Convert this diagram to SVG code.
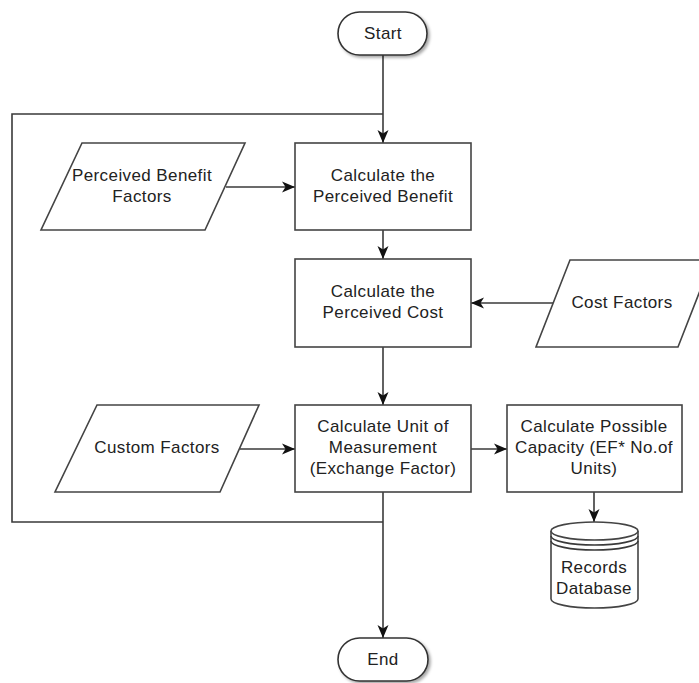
<svg xmlns="http://www.w3.org/2000/svg" width="699" height="683" viewBox="0 0 699 683">
<style>
.shape{fill:#ffffff;stroke:#444444;stroke-width:1.6}
.term{fill:#ffffff;stroke:#333333;stroke-width:1.6;filter:url(#sh)}
.conn{fill:none;stroke:#3a3a3a;stroke-width:1.6}
text{font-family:"Liberation Sans",Arial,sans-serif;font-size:17px;fill:#222222;text-anchor:middle;letter-spacing:0.4px}
</style>
<defs>
<marker id="arr" markerUnits="userSpaceOnUse" markerWidth="14" markerHeight="14" refX="13" refY="7" orient="auto">
<path d="M0,1.5 L13,7 L0,12.5 L3.5,7 z" fill="#111111"/>
</marker>
<filter id="sh" x="-10%" y="-10%" width="130%" height="140%">
<feDropShadow dx="2" dy="2" stdDeviation="1.5" flood-color="#000000" flood-opacity="0.35"/>
</filter>
</defs>
<rect width="699" height="683" fill="#ffffff"/>
<g id="connectors">
<path class="conn" d="M383,522 H12 V114 H383"/>
<line class="conn" x1="383" y1="55" x2="383" y2="143" marker-end="url(#arr)"/>
<line class="conn" x1="226" y1="187" x2="295" y2="187" marker-end="url(#arr)"/>
<line class="conn" x1="383" y1="230" x2="383" y2="259" marker-end="url(#arr)"/>
<line class="conn" x1="553" y1="303" x2="471" y2="303" marker-end="url(#arr)"/>
<line class="conn" x1="383" y1="347" x2="383" y2="405" marker-end="url(#arr)"/>
<line class="conn" x1="240" y1="449" x2="295" y2="449" marker-end="url(#arr)"/>
<line class="conn" x1="471" y1="449" x2="507" y2="449" marker-end="url(#arr)"/>
<line class="conn" x1="594" y1="492" x2="594" y2="522" marker-end="url(#arr)"/>
<line class="conn" x1="383" y1="492" x2="383" y2="638" marker-end="url(#arr)"/>
</g>
<g id="start">
<rect class="term" x="338" y="12" width="89" height="43" rx="21.5"/>
<text x="383" y="39">Start</text>
</g>
<g id="perceived-benefit-factors">
<polygon class="shape" points="82,143 245,143 205,230 41,230"/>
<text x="142" y="181">Perceived Benefit</text>
<text x="142" y="202">Factors</text>
</g>
<g id="calc-benefit">
<rect class="shape" x="295" y="143" width="176" height="87"/>
<text x="383" y="181">Calculate the</text>
<text x="383" y="202">Perceived Benefit</text>
</g>
<g id="calc-cost">
<rect class="shape" x="295" y="259" width="176" height="88"/>
<text x="383" y="297">Calculate the</text>
<text x="383" y="318">Perceived Cost</text>
</g>
<g id="cost-factors">
<polygon class="shape" points="570,260 712,260 678,347 536,347"/>
<text x="622" y="308">Cost Factors</text>
</g>
<g id="custom-factors">
<polygon class="shape" points="97,405 259,405 220,492 55,492"/>
<text x="157" y="453">Custom Factors</text>
</g>
<g id="calc-unit">
<rect class="shape" x="295" y="405" width="176" height="87"/>
<text x="383" y="432">Calculate Unit of</text>
<text x="383" y="453">Measurement</text>
<text x="383" y="474">(Exchange Factor)</text>
</g>
<g id="calc-capacity">
<rect class="shape" x="507" y="405" width="175" height="87"/>
<text x="594" y="432">Calculate Possible</text>
<text x="594" y="453">Capacity (EF* No.of</text>
<text x="594" y="474">Units)</text>
</g>
<g id="records-database">
<path class="shape" d="M551,531 V599 A43.5,9 0 0 0 638,599 V531"/>
<ellipse class="shape" cx="594.5" cy="531" rx="43.5" ry="9"/>
<path class="conn" d="M551,536 A43.5,9 0 0 0 638,536"/>
<path class="conn" d="M551,541 A43.5,9 0 0 0 638,541"/>
<text x="594" y="573">Records</text>
<text x="594" y="594">Database</text>
</g>
<g id="end">
<rect class="term" x="338" y="638" width="90" height="43" rx="21.5"/>
<text x="383" y="665">End</text>
</g>
</svg>
